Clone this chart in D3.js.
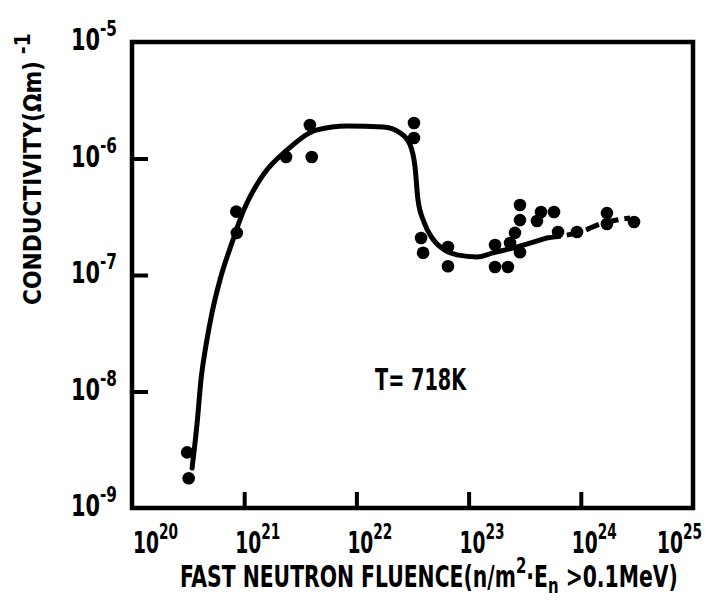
<!DOCTYPE html>
<html><head><meta charset="utf-8">
<script src="https://cdn.jsdelivr.net/npm/d3@7"></script>
<style>
body{margin:0;background:#fff}
text{font-family:"Liberation Sans Narrow","DejaVu Sans Condensed","DejaVu Sans",sans-serif;font-weight:bold;fill:#000}
</style>
</head><body>
<svg id="c" width="705" height="613"></svg>
<script>
// measured data points (fluence n/m^2, conductivity (Ohm m)^-1)
const fluence = [3.1e20,3.2e20,8.5e20,8.6e20,2.36e21,3.85e21,4.0e21,3.26e22,3.26e22,3.77e22,3.93e22,6.55e22,6.55e22,
  1.72e23,1.72e23,2.24e23,2.34e23,2.59e23,2.87e23,2.87e23,2.87e23,4.07e23,4.42e23,5.77e23,6.27e23,9.25e23,1.71e24,1.71e24,2.98e24];
const conductivity = [3.0e-9,1.8e-9,3.5e-7,2.3e-7,1.03e-6,1.94e-6,1.03e-6,2.02e-6,1.50e-6,2.08e-7,1.55e-7,1.74e-7,1.19e-7,
  1.81e-7,1.17e-7,1.17e-7,1.88e-7,2.30e-7,1.57e-7,2.96e-7,3.99e-7,2.91e-7,3.47e-7,3.47e-7,2.34e-7,2.34e-7,3.40e-7,2.74e-7,2.85e-7];
// hand-drawn fitted curve (solid part)
const curveFluence = [3.43e20,3.79e20,4.12e20,4.57e20,5.16e20,6.08e20,7.94e20,9.75e20,1.47e21,2.40e21,4.46e21,8.24e21,1.73e22,
  2.45e22,3.01e22,3.33e22,3.54e22,4.00e22,4.72e22,5.92e22,7.89e22,1.19e23,1.65e23,2.70e23,5.00e23];
const curveConductivity = [2.20e-9,5.15e-9,1.26e-8,2.51e-8,4.72e-8,9.06e-8,2.00e-7,3.48e-7,7.21e-7,1.18e-6,1.76e-6,1.90e-6,1.86e-6,
  1.66e-6,1.31e-6,8.45e-7,4.41e-7,2.85e-7,2.08e-7,1.67e-7,1.49e-7,1.43e-7,1.55e-7,1.74e-7,2.08e-7];
// dashed continuation
const dashFluence = [5.0e23,1.05e24,1.48e24,2.75e24];
const dashConductivity = [2.08e-7,2.39e-7,2.74e-7,3.08e-7];
const xTickExponents = [20,21,22,23,24,25];
const yTickExponents = [-5,-6,-7,-8,-9];
const xTitleMain = "FAST NEUTRON FLUENCE(n/m";
const yTitleMain = "CONDUCTIVITY(Ωm)";
const annotation = "T= 718K";

const svg = d3.select("#c");
const x = d3.scaleLog().domain([1e20,1e25]).range([132,693]);
const y = d3.scaleLog().domain([1e-9,1e-5]).range([508,42]);

// helper: build a text at origin inside a group and squeeze it horizontally to a width
function fitted(tx, ty, width, rotate, build){
  const g = svg.append("g");
  const t = g.append("text").attr("x",0).attr("y",0);
  build(t);
  const w = t.node().getBBox().width;
  const s = width / w;
  g.attr("transform",`translate(${tx},${ty})${rotate?` rotate(${rotate})`:""} scale(${s},1)`);
  return g;
}

// frame
svg.append("rect").attr("x",132).attr("y",42).attr("width",561).attr("height",466)
  .attr("fill","none").attr("stroke","#000").attr("stroke-width",4.5);

// axes (inward ticks)
const xa = svg.append("g").attr("transform","translate(0,508)")
  .call(d3.axisBottom(x).tickValues(xTickExponents.slice(1,-1).map(e=>Math.pow(10,e))).tickSize(-16).tickFormat(""));
const ya = svg.append("g").attr("transform","translate(132,0)")
  .call(d3.axisLeft(y).tickValues(yTickExponents.slice(1,-1).map(e=>Math.pow(10,e))).tickSize(-16).tickFormat(""));
[xa,ya].forEach(g=>{g.select(".domain").remove();g.selectAll("line").attr("stroke","#000").attr("stroke-width",4);});

function tickLabel(t, exp){
  t.attr("font-size",30);
  t.append("tspan").text("10");
  t.append("tspan").attr("dy",-14).attr("font-size",22).text(exp);
}
// x tick labels
xTickExponents.forEach(e=>{
  const px = Math.min(Math.max(x(Math.pow(10,e))-9,133),657);
  fitted(px, 553, 45, 0, t=>tickLabel(t, String(e)));
});
// y tick labels
yTickExponents.forEach(e=>{
  const py = y(Math.pow(10,e))+8;
  fitted(71, py, 46, 0, t=>tickLabel(t, "-"+Math.abs(e)));
});

// axis titles
fitted(180, 587, 498, 0, t=>{
  t.attr("font-size",30);
  t.append("tspan").text(xTitleMain);
  t.append("tspan").attr("dy",-14).attr("font-size",22).text("2");
  t.append("tspan").attr("dy",14).text("·E");
  t.append("tspan").attr("dy",6).attr("font-size",22).text("n");
  t.append("tspan").attr("dy",-6).text(" >0.1MeV)");
});

fitted(41, 305, 272, -90, t=>{
  t.attr("font-size",24);
  t.append("tspan").text(yTitleMain);
  t.append("tspan").attr("dy",-11).attr("font-size",21).text(" -1");
});

// annotation
fitted(375, 390, 92, 0, t=>{ t.attr("font-size",30).text(annotation); });

// curves
const line = d3.line().x(d=>x(d[0])).y(d=>y(d[1])).curve(d3.curveMonotoneX);
svg.append("path").datum(curveFluence.map((f,i)=>[f,curveConductivity[i]]))
  .attr("d",line).attr("fill","none").attr("stroke","#000").attr("stroke-width",5).attr("stroke-linecap","round");
svg.append("path").datum(dashFluence.map((f,i)=>[f,dashConductivity[i]]))
  .attr("d",line).attr("fill","none").attr("stroke","#000").attr("stroke-width",5)
  .attr("stroke-dasharray","14,6");

// points
svg.append("g").selectAll("circle").data(fluence.map((f,i)=>[f,conductivity[i]])).join("circle")
  .attr("cx",d=>x(d[0])).attr("cy",d=>y(d[1])).attr("r",6.3).attr("fill","#000");
</script>
</body></html>
